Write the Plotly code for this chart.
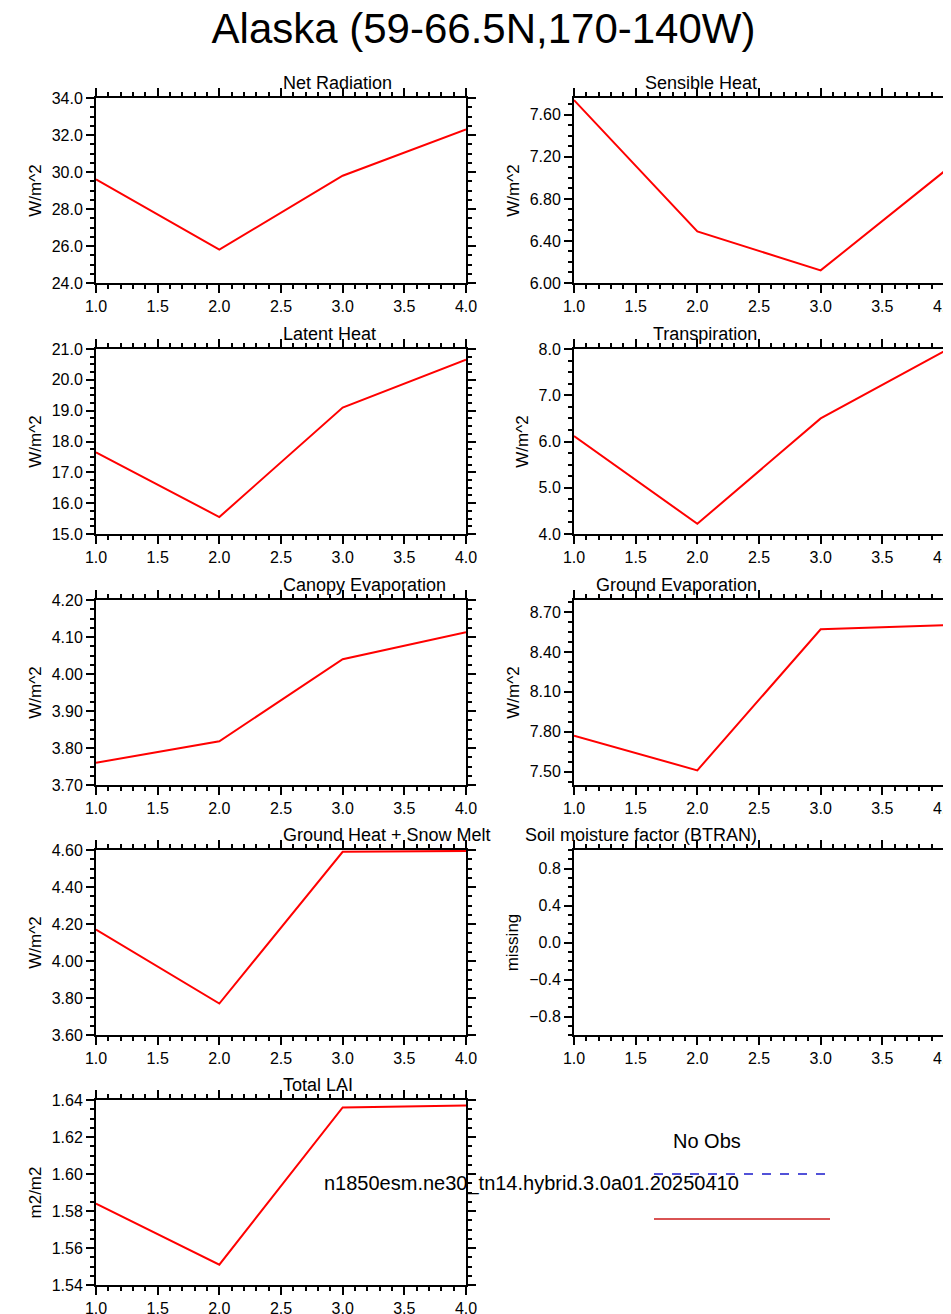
import plotly.graph_objects as go

x_vals = [1, 2, 3, 4]

titles = ["Net Radiation", "Sensible Heat", "Latent Heat", "Transpiration",
          "Canopy Evaporation", "Ground Evaporation", "Ground Heat + Snow Melt",
          "Soil moisture factor (BTRAN)", "Total LAI"]
units = ["W/m^2", "W/m^2", "W/m^2", "W/m^2", "W/m^2", "W/m^2", "W/m^2", "missing", "m2/m2"]

net_rad = [29.6, 25.8, 29.8, 32.3]
sens_heat = [7.74, 6.49, 6.12, 7.06]
lat_heat = [17.65, 15.55, 19.1, 20.65]
transp = [6.12, 4.22, 6.5, 7.95]
can_evap = [3.76, 3.818, 4.04, 4.113]
gnd_evap = [7.77, 7.51, 8.57, 8.60]
gnd_heat = [4.17, 3.77, 4.59, 4.595]
btran = [None, None, None, None]
lai = [1.584, 1.551, 1.636, 1.637]

series = [net_rad, sens_heat, lat_heat, transp, can_evap, gnd_evap, gnd_heat, btran, lai]
yranges = [(24, 34), (6.0, 7.76), (15, 21), (4, 8), (3.7, 4.2), (7.40, 8.79),
           (3.6, 4.6), (-1, 1), (1.54, 1.64)]
ydticks = [2, 0.4, 1, 1, 0.1, 0.3, 0.2, 0.4, 0.02]
yfmts = [".1f", ".2f", ".1f", ".1f", ".2f", ".2f", ".2f", ".1f", ".2f"]

W, H = 951, 1314
cols_px = [(88, 458), (566, 936)]
rows_px = [(90, 275), (341, 526), (592, 777), (842, 1027), (1092, 1277)]

fig = go.Figure()
font = "Liberation Sans, Arial, sans-serif"

for i, ys in enumerate(series):
    r, c = divmod(i, 2)
    n = "" if i == 0 else str(i + 1)
    x0, x1 = cols_px[c]
    yt, yb = rows_px[r]
    fig.add_trace(go.Scatter(x=x_vals, y=ys, mode="lines",
                             line=dict(color="red", width=2),
                             xaxis="x" + n, yaxis="y" + n, showlegend=False))
    lo, hi = yranges[i]
    ax = dict(showline=True, linecolor="black", linewidth=2, mirror="ticks",
              ticks="outside", ticklen=8, tickwidth=1.5, tickcolor="black",
              showgrid=False, zeroline=False, automargin=False,
              tickfont=dict(size=16, color="black", family=font),
              minor=dict(ticks="outside", ticklen=4, tickcolor="black"))
    xa = dict(ax, domain=[x0 / W, x1 / W], range=[1, 4], dtick=0.5,
              tickformat=".1f", anchor="y" + n, minor=dict(ax["minor"], dtick=0.1))
    ya = dict(ax, domain=[1 - yb / H, 1 - yt / H], range=[lo, hi],
              tick0=0, dtick=ydticks[i], tickformat=yfmts[i], anchor="x" + n,
              title=dict(text=units[i], font=dict(size=17, family=font, color="black"),
                         standoff=6),
              minor=dict(ax["minor"], dtick=ydticks[i] / 4))
    if i == 7:
        ya["tickvals"] = [-0.8, -0.4, 0.0, 0.4, 0.8]
    fig.update_layout({"xaxis" + n: xa, "yaxis" + n: ya})
    fig.add_annotation(text=titles[i], xref="paper", yref="paper",
                       x=(x0 + x1) / 2 / W, y=1 - (yt - 3) / H, yanchor="bottom",
                       showarrow=False, font=dict(size=18, family=font, color="black"))

# legend block
fig.add_annotation(text="No Obs", xref="paper", yref="paper", x=735 / W, y=1 - 1146 / H,
                   showarrow=False, font=dict(size=20, family=font, color="black"))
fig.add_shape(type="line", xref="paper", yref="paper", x0=646 / W, x1=822 / W,
              y0=1 - 1166 / H, y1=1 - 1166 / H, line=dict(color="#1a1acc", width=1.5, dash="dash"))
fig.add_annotation(text="n1850esm.ne30_tn14.hybrid.3.0a01.20250410", xref="paper", yref="paper",
                   x=733 / W, y=1 - 1189 / H, showarrow=False,
                   font=dict(size=20, family=font, color="black"))
fig.add_shape(type="line", xref="paper", yref="paper", x0=646 / W, x1=822 / W,
              y0=1 - 1211 / H, y1=1 - 1211 / H, line=dict(color="#cc1a1a", width=1.5))

fig.update_layout(
    title=dict(text="Alaska (59-66.5N,170-140W)", x=0.5, xanchor="center",
               y=1 - 20 / H, yanchor="middle", font=dict(size=42, family=font, color="black")),
    width=W, height=H, margin=dict(l=0, r=0, t=0, b=0),
    paper_bgcolor="white", plot_bgcolor="white",
)

fig.write_html("out.html")
